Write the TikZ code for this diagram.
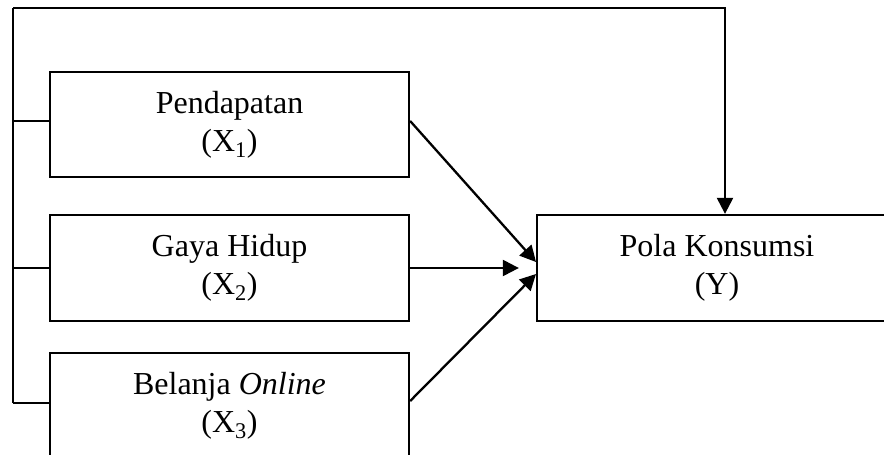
\documentclass[tikz,border=0pt]{standalone}
\usepackage{fontspec}
\setmainfont{Liberation Serif}
\usetikzlibrary{arrows.meta}
\begin{document}
\begin{tikzpicture}[x=1pt,y=-1pt,
  ln/.style={line width=2.3pt,draw=black},
  arr/.style={ln,-{Triangle[length=16pt,width=16pt]}},
  box/.style={ln,rectangle,inner sep=0pt,align=center,minimum width=359pt,
    font=\fontsize{32}{38}\selectfont}]
\useasboundingbox (0,0) rectangle (884,455);
\clip (0,0) rectangle (884,455);
\node[box,minimum height=105pt] (x1) at (229.5,124.5) {Pendapatan\\(X\textsubscript{1})};
\node[box,minimum height=106pt] (x2) at (229.5,268) {Gaya Hidup\\(X\textsubscript{2})};
\node[box,minimum height=105pt] (x3) at (229.5,405.5) {Belanja \textit{Online}\\(X\textsubscript{3})};
\node[box,minimum width=360pt,minimum height=106pt] (y) at (717,268) {Pola Konsumsi\\(Y)};
\coordinate (tl) at (13,8);
\coordinate (bl) at (13,403);
\coordinate (t1) at (536,262);
\coordinate (t3) at (536,274);
\draw[ln] (bl) -- (tl);
\draw[arr] (tl) -| ([xshift=8pt]y.north);
\draw[ln] (tl |- 0,121) -- ([yshift=3.5pt]x1.west);
\draw[ln] (tl |- x2.west) -- (x2.west);
\draw[ln] (bl) -- (bl -| x3.west);
\draw[arr] ([yshift=3.5pt]x1.east) -- (t1);
\draw[arr] (x2.east) -- ([xshift=-17pt]y.west);
\draw[arr] ([yshift=4.5pt]x3.east) -- (t3);
\end{tikzpicture}
\end{document}
